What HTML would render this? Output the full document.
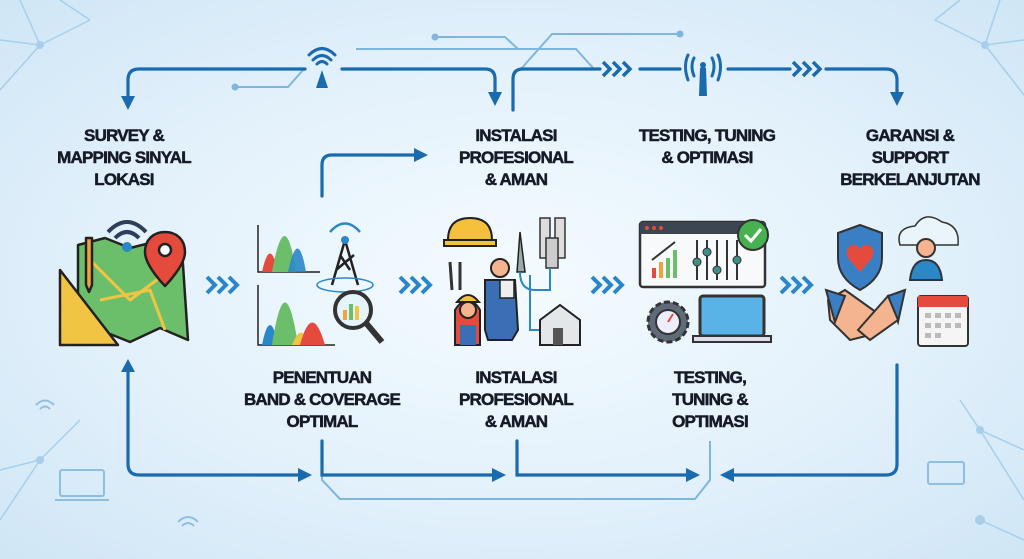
<!DOCTYPE html>
<html><head><meta charset="utf-8"><style>
html,body{margin:0;padding:0}
body{width:1024px;height:559px;overflow:hidden;background:radial-gradient(ellipse at 50% 50%,#f4fbff 0%,#e3f1fb 55%,#cfe6f6 100%);font-family:"Liberation Sans",sans-serif}
svg{position:absolute;left:0;top:0}
.t{font-family:"Liberation Sans",sans-serif;font-weight:bold;font-size:17px;fill:#151a26;stroke:#151a26;stroke-width:0.5px;text-anchor:middle;letter-spacing:-0.8px}
</style></head><body>
<svg width="1024" height="559" viewBox="0 0 1024 559">
<defs>
<marker id="ah" markerWidth="14" markerHeight="14" refX="8" refY="7" orient="auto" markerUnits="userSpaceOnUse"><path d="M0,0 L14,7 L0,14 Z" fill="#1a6aae"/></marker>
</defs>
<g stroke="#a8cfe9" stroke-width="1.5" fill="none">
<path d="M0,40 L40,45 L20,0 M40,45 L90,20 M40,45 L0,90 M90,20 L60,0"/>
<path d="M1024,40 L985,45 L1000,0 M985,45 L935,20 M985,45 L1024,95 M935,20 L960,0"/>
<path d="M0,470 L40,460 L80,420 M40,460 L0,520"/>
<path d="M1024,450 L980,430 L960,400 M980,430 L1024,500 M980,520 L1024,540"/>
</g>
<g fill="#a8cfe9"><circle cx="40" cy="45" r="4"/><circle cx="985" cy="45" r="4"/><circle cx="40" cy="460" r="4"/><circle cx="980" cy="430" r="4"/><circle cx="980" cy="520" r="5"/></g>
<g stroke="#7fb6dd" stroke-width="2" fill="none">
<path d="M356,49 L576,49 L594,69"/>
<path d="M435,37 L505,37 L518,49"/>
<path d="M680,34 L552,34 L521,69"/>
<path d="M235,87 L288,87 L304,69"/>
<path d="M322,441 L322,480 L340,499 L695,499 L710,480 L710,441"/>
</g>
<g fill="#7fb6dd"><circle cx="435" cy="37" r="3.5"/><circle cx="680" cy="34" r="3.5"/><circle cx="235" cy="87" r="3.5"/></g>
<g stroke="#1a6aae" stroke-width="3.2" fill="none" stroke-linecap="round">
<path d="M128,96 L128,80 Q128,69 139,69 L305,69"/>
<path d="M342,69 L485,69 Q495,69 495,79 L495,100" marker-end="url(#ah)"/>
<path d="M513,110 L513,79 Q513,69 523,69 L600,69"/>
<path d="M640,69 L680,69 M728,69 L790,69 M826,69 L886,69 Q897,69 897,80 L897,100" marker-end="url(#ah)"/>
<path d="M322,196 L322,165 Q322,155 332,155 L422,155" marker-end="url(#ah)"/>
<path d="M128,372 L128,464 Q128,475 139,475 L306,475" marker-end="url(#ah)"/>
<path d="M322,441 L322,475 L500,475" marker-end="url(#ah)"/>
<path d="M517,441 L517,475 L694,475" marker-end="url(#ah)"/>
<path d="M897,365 L897,464 Q897,475 886,475 L726,475" marker-end="url(#ah)"/>
</g>
<path d="M121,96 L135,96 L128,110 Z" fill="#1a6aae"/>
<path d="M121,372 L128,359 L135,372 Z" fill="#1a6aae"/>
<g stroke="#1a6aae" stroke-width="3.5" fill="none">
<path d="M603,62 l7,7 l-7,7 M613,62 l7,7 l-7,7 M623,62 l7,7 l-7,7"/>
<path d="M793,62 l7,7 l-7,7 M803,62 l7,7 l-7,7 M813,62 l7,7 l-7,7"/>
</g>
<g stroke="#2b86c8" stroke-width="4" fill="none">
<path d="M207,277 l8,8 l-8,8 M218,277 l8,8 l-8,8 M229,277 l8,8 l-8,8"/>
<path d="M400,277 l8,8 l-8,8 M411,277 l8,8 l-8,8 M422,277 l8,8 l-8,8"/>
<path d="M592,277 l8,8 l-8,8 M603,277 l8,8 l-8,8 M614,277 l8,8 l-8,8"/>
<path d="M781,277 l8,8 l-8,8 M792,277 l8,8 l-8,8 M803,277 l8,8 l-8,8"/>
</g>
<g stroke="#1a6aae" stroke-width="3" fill="none" stroke-linecap="round">
<path d="M309,55 Q322,42 335,55 M313,60 Q322,51 331,60 M317,64 Q322,59 327,64"/>
<path d="M694,58 Q690,66 694,76 M688,55 Q683,66 688,80 M712,58 Q716,66 712,76 M718,55 Q723,66 718,80"/>
</g>
<path d="M316,88 L322,70 L328,88 Z" fill="#1a6aae"/>
<circle cx="703" cy="65" r="3" fill="#1a6aae"/><path d="M700,68 L703,66 L706,68 L707,96 L699,96 Z" fill="#1a6aae"/>
<text class="t"><tspan x="124" y="141">SURVEY &amp;</tspan><tspan x="124" y="163">MAPPING SINYAL</tspan><tspan x="124" y="185">LOKASI</tspan></text>
<text class="t"><tspan x="516" y="141">INSTALASI</tspan><tspan x="516" y="163">PROFESIONAL</tspan><tspan x="516" y="185">&amp; AMAN</tspan></text>
<text class="t"><tspan x="707" y="141">TESTING, TUNING</tspan><tspan x="707" y="163">&amp; OPTIMASI</tspan></text>
<text class="t"><tspan x="910" y="141">GARANSI &amp;</tspan><tspan x="910" y="163">SUPPORT</tspan><tspan x="910" y="185">BERKELANJUTAN</tspan></text>
<text class="t"><tspan x="322" y="383">PENENTUAN</tspan><tspan x="322" y="405">BAND &amp; COVERAGE</tspan><tspan x="322" y="427">OPTIMAL</tspan></text>
<text class="t"><tspan x="516" y="383">INSTALASI</tspan><tspan x="516" y="405">PROFESIONAL</tspan><tspan x="516" y="427">&amp; AMAN</tspan></text>
<text class="t"><tspan x="710" y="383">TESTING,</tspan><tspan x="710" y="405">TUNING &amp;</tspan><tspan x="710" y="427">OPTIMASI</tspan></text>
<g stroke="#222" stroke-width="2.5" stroke-linejoin="round">
<path d="M78,245 L105,238 L130,248 L162,240 L182,250 L188,340 L160,328 L130,342 L100,330 L78,340 Z" fill="#6cbf6a"/>
<path d="M90,260 L130,300 L170,270 M100,300 L150,290 L165,330" stroke="#f2c443" fill="none" stroke-width="3"/>
<path d="M60,345 L60,270 L118,345 Z" fill="#f2c443"/>
<path d="M165,232 c-12,0 -20,8 -20,20 c0,14 20,34 20,34 c0,0 20,-20 20,-34 c0,-12 -8,-20 -20,-20z" fill="#e44b3c"/>
<circle cx="165" cy="250" r="6" fill="#fff"/>
<path d="M86,238 L92,238 L92,285 L89,292 L86,285 Z" fill="#f2a33a"/>
</g>
<g stroke="#2e3e5a" stroke-width="4" fill="none"><path d="M108,232 Q127,212 146,232 M115,238 Q127,226 139,238"/></g>
<circle cx="127" cy="247" r="5" fill="#2a87c8"/>
<g stroke="#222" stroke-width="1.5" fill="none"><path d="M258,225 L258,272 L320,272 M258,285 L258,345 L335,345"/></g>
<path d="M262,272 Q270,235 278,272 Z" fill="#e44b3c"/><path d="M272,272 Q285,200 296,272 Z" fill="#6cbf6a"/><path d="M288,272 Q298,225 306,272 Z" fill="#2a87c8" opacity=".9"/>
<path d="M262,345 Q270,305 278,345 Z" fill="#2a87c8"/><path d="M272,345 Q285,260 298,345 Z" fill="#6cbf6a"/><path d="M292,345 Q302,320 308,345 Z" fill="#f2c443"/><path d="M300,345 Q312,300 325,345 Z" fill="#e44b3c"/>
<g stroke="#222" stroke-width="2.5" fill="none"><path d="M332,285 L345,240 L358,285 M336,270 L354,255 M340,255 L350,270"/>
<ellipse cx="345" cy="285" rx="28" ry="7" stroke="#2a87c8" stroke-width="1.5"/>
<path d="M330,232 Q345,215 360,232" stroke="#2a87c8"/></g>
<circle cx="345" cy="240" r="4" fill="#2a87c8"/>
<circle cx="353" cy="310" r="18" fill="#e5f3fb" stroke="#333" stroke-width="4"/><path d="M366,323 L382,342" stroke="#333" stroke-width="6"/>
<rect x="343" y="310" width="4" height="10" fill="#f2a33a"/><rect x="349" y="304" width="4" height="16" fill="#6cbf6a"/><rect x="355" y="306" width="4" height="14" fill="#f2c443"/>
<path d="M448,240 Q448,218 470,218 Q492,218 492,240 Z" fill="#f5c13c" stroke="#222" stroke-width="2"/>
<rect x="444" y="240" width="52" height="6" fill="#f5c13c" stroke="#222" stroke-width="2"/>
<circle cx="500" cy="268" r="9" fill="#f3b48f" stroke="#222" stroke-width="2"/>
<path d="M485,280 L515,280 L518,330 L512,340 L488,340 L485,330 Z" fill="#3a6fb5" stroke="#222" stroke-width="2"/>
<rect x="500" y="280" width="14" height="18" fill="#eee" stroke="#222" stroke-width="1.5"/>
<path d="M455,310 Q468,290 480,310 L480,345 L455,345 Z" fill="#e44b3c" stroke="#222" stroke-width="2"/>
<path d="M457,302 Q468,288 479,302 Z" fill="#f5c13c" stroke="#222" stroke-width="2"/>
<circle cx="468" cy="310" r="8" fill="#f3b48f" stroke="#222" stroke-width="2"/>
<path d="M460,325 L476,325 L476,345 L460,345 Z" fill="#3a6fb5"/>
<g stroke="#333" stroke-width="3" fill="none"><path d="M450,262 L452,290 M460,262 L460,290"/></g>
<path d="M520,232 L517,272 L525,272 Z" fill="#9aa" stroke="#222" stroke-width="1.5"/>
<rect x="540" y="218" width="10" height="40" fill="#ddd" stroke="#333" stroke-width="1.5"/><rect x="555" y="218" width="10" height="40" fill="#ddd" stroke="#333" stroke-width="1.5"/><rect x="546" y="238" width="12" height="30" fill="#ccc" stroke="#333" stroke-width="1.5"/>
<path d="M520,272 Q520,290 535,290 L550,290 L550,268 M530,275 L530,330 L545,330" stroke="#2a87c8" stroke-width="2" fill="none"/>
<path d="M540,320 L560,305 L580,320 L580,345 L540,345 Z" fill="#e3e7ea" stroke="#222" stroke-width="2"/><rect x="553" y="328" width="10" height="17" fill="#555"/>
<rect x="640" y="222" width="125" height="65" rx="3" fill="#f7f9fa" stroke="#333" stroke-width="2.5"/>
<rect x="640" y="222" width="125" height="12" fill="#3c4653"/>
<g fill="#e44b3c"><circle cx="647" cy="228" r="2"/><circle cx="654" cy="228" r="2"/><circle cx="661" cy="228" r="2"/></g>
<rect x="652" y="268" width="4" height="10" fill="#e44b3c"/><rect x="659" y="262" width="4" height="16" fill="#f2a33a"/><rect x="666" y="258" width="4" height="20" fill="#6cbf6a"/><rect x="673" y="250" width="4" height="28" fill="#6cbf6a"/>
<path d="M652,260 L675,242" stroke="#333" stroke-width="2"/>
<g stroke="#333" stroke-width="2"><path d="M697,240 L697,280 M707,240 L707,280 M717,240 L717,280 M727,240 L727,280 M737,240 L737,280"/></g>
<g fill="#3f8e88" stroke="#333"><circle cx="697" cy="262" r="4"/><circle cx="707" cy="252" r="4"/><circle cx="717" cy="270" r="4"/><circle cx="737" cy="260" r="4"/></g>
<circle cx="753" cy="235" r="15" fill="#46b14e" stroke="#333" stroke-width="2"/><path d="M745,235 L751,241 L761,229" stroke="#fff" stroke-width="3" fill="none"/>
<circle cx="668" cy="322" r="20" fill="#5f6b78" stroke="#333" stroke-width="3" stroke-dasharray="6 3"/><circle cx="668" cy="322" r="12" fill="#eef" stroke="#333" stroke-width="2"/><path d="M668,322 L673,314" stroke="#e44b3c" stroke-width="2"/>
<rect x="700" y="296" width="64" height="40" rx="3" fill="#5ab3e6" stroke="#333" stroke-width="3"/><rect x="693" y="336" width="78" height="6" fill="#dde" stroke="#333" stroke-width="2"/>
<path d="M860,225 L838,233 L838,258 Q838,278 860,290 Q882,278 882,258 L882,233 Z" fill="#3a7fc4" stroke="#333" stroke-width="2"/>
<path d="M860,272 L848,258 Q844,248 852,245 Q858,244 860,250 Q862,244 868,245 Q876,248 872,258 Z" fill="#e44b3c"/>
<path d="M900,245 Q895,228 915,226 Q925,210 942,222 Q960,225 958,245 Z" fill="#e9f4fb" stroke="#333" stroke-width="1.5"/>
<circle cx="926" cy="248" r="9" fill="#f3b48f" stroke="#333" stroke-width="2"/><path d="M910,280 Q912,260 926,260 Q940,260 942,280 Z" fill="#2a87c8" stroke="#333" stroke-width="2"/>
<path d="M828,300 L845,290 L880,315 L870,335 L850,340 L830,320 Z" fill="#f3b48f" stroke="#333" stroke-width="2"/>
<path d="M826,290 L845,296 L835,322 Z" fill="#3a7fc4" stroke="#333" stroke-width="2"/><path d="M905,290 L888,296 L898,322 Z" fill="#3a7fc4" stroke="#333" stroke-width="2"/>
<path d="M888,296 L898,320 L870,340 L858,330 Z" fill="#f3b48f" stroke="#333" stroke-width="2"/>
<rect x="918" y="296" width="50" height="50" rx="3" fill="#f5f5f5" stroke="#333" stroke-width="2"/><rect x="918" y="296" width="50" height="11" fill="#e44b3c"/>
<g fill="#bbb"><rect x="925" y="313" width="6" height="5"/><rect x="935" y="313" width="6" height="5"/><rect x="945" y="313" width="6" height="5"/><rect x="955" y="313" width="6" height="5"/><rect x="925" y="323" width="6" height="5"/><rect x="935" y="323" width="6" height="5"/><rect x="945" y="323" width="6" height="5"/><rect x="955" y="323" width="6" height="5"/><rect x="925" y="333" width="6" height="5"/><rect x="935" y="333" width="6" height="5"/></g>
<g stroke="#8fbfe0" stroke-width="2" fill="none"><path d="M36,405 Q45,396 54,405 M40,409 Q45,404 50,409"/><rect x="60" y="470" width="44" height="26" rx="2"/><path d="M55,500 L109,500"/><rect x="928" y="462" width="36" height="22" rx="2"/><path d="M178,522 Q188,512 198,522 M182,526 Q188,520 194,526"/></g>
</svg>
</body></html>
